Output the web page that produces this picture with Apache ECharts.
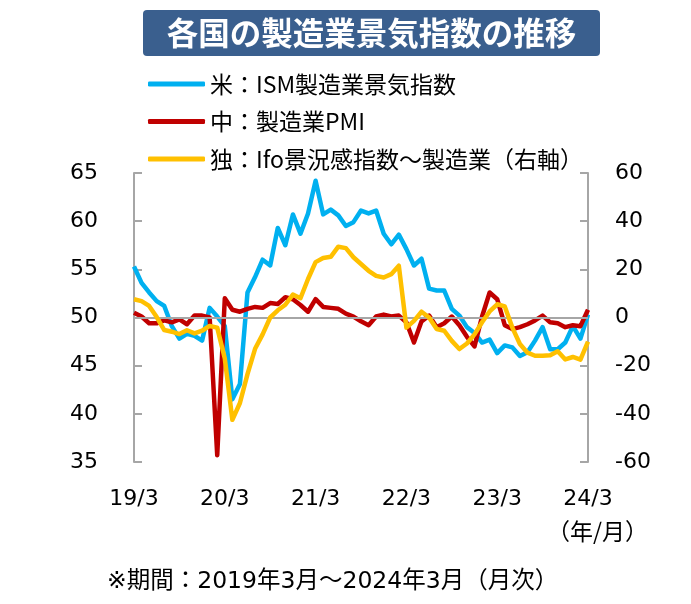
<!DOCTYPE html>
<html>
<head>
<meta charset="utf-8">
<script src="https://cdn.jsdelivr.net/npm/echarts@6/dist/echarts.min.js"></script>
<style>
html,body{margin:0;padding:0;background:#fff;}
#c{width:691px;height:604px;}
</style>
</head>
<body>
<div id="c"></div>
<script>
// Months from 2019/3 to 2024/3
const startYear = 19, startMonth = 3, monthCount = 61;
const categories = [];
for (let i = 0; i < monthCount; i++) {
  const m = (startMonth - 1 + i) % 12 + 1;
  const y = startYear + Math.floor((startMonth - 1 + i) / 12);
  categories.push(y + '/' + m);
}

const seriesNames = ['米：ISM製造業景気指数', '中：製造業PMI', '独：Ifo景況感指数～製造業（右軸）'];

// US ISM manufacturing index (left axis)
const usISM = [
  55.3, 53.6, 52.6, 51.7, 51.2, 49.1, 47.8, 48.3, 48.1, 47.6,
  51.0, 50.1, 49.1, 41.5, 43.1, 52.6, 54.2, 56.0, 55.4, 59.3,
  57.5, 60.7, 58.7, 60.8, 64.2, 60.7, 61.2, 60.6, 59.5, 59.9,
  61.1, 60.8, 61.1, 58.7, 57.6, 58.6, 57.1, 55.4, 56.1, 53.0,
  52.8, 52.8, 50.9, 50.2, 49.0, 48.4, 47.4, 47.7, 46.3, 47.1,
  46.9, 46.0, 46.4, 47.6, 49.0, 46.7, 46.7, 47.4, 49.1, 47.8,
  50.3
];

// China manufacturing PMI (left axis)
const cnPMI = [
  50.5, 50.1, 49.4, 49.4, 49.7, 49.5, 49.8, 49.3, 50.2, 50.2,
  50.0, 35.7, 52.0, 50.8, 50.6, 50.9, 51.1, 51.0, 51.5, 51.4,
  52.1, 51.9, 51.3, 50.6, 51.9, 51.1, 51.0, 50.9, 50.4, 50.1,
  49.6, 49.2, 50.1, 50.3, 50.1, 50.2, 49.5, 47.4, 49.6, 50.2,
  49.0, 49.4, 50.1, 49.2, 48.0, 47.0, 50.1, 52.6, 51.9, 49.2,
  48.8, 49.0, 49.3, 49.7, 50.2, 49.5, 49.4, 49.0, 49.2, 49.1,
  50.8
];

// Germany Ifo business climate, manufacturing (right axis)
const deIfo = [
  7.6, 6.8, 4.8, 0.2, -5.2, -5.9, -6.9, -5.3, -6.6, -5.5,
  -3.5, -4.2, -17, -42.5, -35.5, -23.5, -13, -7, 0, 3,
  5.3, 9.5, 8, 16, 23, 24.7, 25.2, 29.4, 28.8, 25,
  22.2, 19.4, 17.3, 16.6, 18, 21.5, -4.2, -1.4, 2.4, 0,
  -4.8, -5.5, -9.7, -13.1, -10.8, -7, -2, 2.5, 5.5, 4.6,
  -4.2, -11, -14.6, -15.9, -15.9, -15.7, -14, -17.4, -16.4, -17.5,
  -10
];

const leftTicks = { min: 35, max: 65, interval: 5 };
const rightTicks = { min: -60, max: 60, interval: 20 };
const baseLineValue = 50;

const colors = ['#00B0F0', '#C00000', '#FFC000'];
const axisGray = '#A6A6A6';
const numFont = 'DejaVu Sans';
const jpFont = '"Noto Sans CJK JP"';

const chart = echarts.init(document.getElementById('c'), null, { renderer: 'canvas' });

const option = {
  animation: false,
  backgroundColor: '#ffffff',
  grid: { left: 134, right: 103, top: 173, bottom: 142, containLabel: false },
  legend: {
    data: seriesNames,
    orient: 'vertical',
    left: 143,
    top: 65,
    itemWidth: 57,
    itemHeight: 5,
    itemGap: 9.5,
    icon: 'roundRect',
    textStyle: { fontSize: 23, fontFamily: jpFont, color: '#000', lineHeight: 28 },
    selectedMode: false
  },
  xAxis: {
    type: 'category',
    data: categories,
    boundaryGap: false,
    axisLine: { show: false },
    axisTick: { show: false },
    splitLine: { show: false },
    axisLabel: {
      interval: 11,
      fontSize: 22,
      fontFamily: numFont,
      color: '#000',
      margin: 26
    }
  },
  yAxis: [
    {
      type: 'value',
      position: 'left',
      min: leftTicks.min, max: leftTicks.max, interval: leftTicks.interval,
      axisLine: { show: true, lineStyle: { color: axisGray, width: 2 } },
      axisTick: { show: true, inside: true, length: 8, lineStyle: { color: axisGray, width: 2 } },
      splitLine: { show: false },
      axisLabel: { fontSize: 22, fontFamily: numFont, color: '#000', margin: 36 }
    },
    {
      type: 'value',
      position: 'right',
      min: rightTicks.min, max: rightTicks.max, interval: rightTicks.interval,
      axisLine: { show: true, lineStyle: { color: axisGray, width: 2 } },
      axisTick: { show: true, inside: true, length: 8, lineStyle: { color: axisGray, width: 2 } },
      splitLine: { show: false },
      axisLabel: { fontSize: 22, fontFamily: numFont, color: '#000', margin: 27 }
    }
  ],
  graphic: [
    {
      type: 'rect',
      shape: { x: 143, y: 10, width: 457, height: 46, r: 4 },
      style: { fill: '#3A5F8E' },
      z: 10
    },
    {
      type: 'text',
      x: 371.5, y: 33,
      style: {
        text: '各国の製造業景気指数の推移',
        fill: '#fff',
        font: 'bold 31.5px "Noto Sans CJK JP"',
        textAlign: 'center',
        textVerticalAlign: 'middle'
      },
      z: 11
    },
    {
      type: 'text',
      x: 597.5, y: 531,
      style: {
        text: '（年/月）',
        fill: '#000',
        font: '23px "Noto Sans CJK JP"',
        textAlign: 'center',
        textVerticalAlign: 'middle'
      }
    },
    {
      type: 'text',
      x: 107, y: 582,
      style: {
        text: '※期間：2019年3月～2024年3月（月次）',
        fill: '#000',
        font: '23.5px "DejaVu Sans", "Noto Sans CJK JP"',
        textAlign: 'left',
        textVerticalAlign: 'middle'
      }
    }
  ],
  series: [
    {
      name: 'base',
      type: 'line',
      yAxisIndex: 0,
      data: [],
      z: 1,
      silent: true,
      markLine: {
        silent: true,
        symbol: 'none',
        label: { show: false },
        lineStyle: { color: axisGray, width: 2, type: 'solid' },
        data: [{ yAxis: baseLineValue }]
      }
    },
    {
      name: seriesNames[0], type: 'line', yAxisIndex: 0, data: usISM,
      showSymbol: false, symbol: 'none', z: 3,
      lineStyle: { color: colors[0], width: 4.5, join: 'round' },
      itemStyle: { color: colors[0] }
    },
    {
      name: seriesNames[1], type: 'line', yAxisIndex: 0, data: cnPMI,
      showSymbol: false, symbol: 'none', z: 4,
      lineStyle: { color: colors[1], width: 4.5, join: 'round' },
      itemStyle: { color: colors[1] }
    },
    {
      name: seriesNames[2], type: 'line', yAxisIndex: 1, data: deIfo,
      showSymbol: false, symbol: 'none', z: 5,
      lineStyle: { color: colors[2], width: 4.5, join: 'round' },
      itemStyle: { color: colors[2] }
    }
  ]
};
chart.setOption(option);
</script>
</body>
</html>
